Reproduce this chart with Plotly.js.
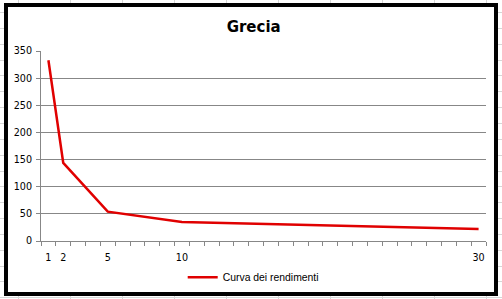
<!DOCTYPE html>
<html>
<head>
<meta charset="utf-8">
<script src="https://cdn.plot.ly/plotly-3.0.1.min.js"></script>
<style>
  html, body { margin: 0; padding: 0; width: 502px; height: 299px; overflow: hidden; }
  body {
    background-color: #ffffff;
    background-image:
      repeating-linear-gradient(to right, transparent 0px, transparent 18px, #d6d6d6 18px, #d6d6d6 19px, transparent 19px, transparent 52px),
      repeating-linear-gradient(to bottom, transparent 0px, transparent 12px, #d6d6d6 12px, #d6d6d6 13px, transparent 13px, transparent 15.85px);
  }
  #frame {
    position: absolute; left: 4px; top: 3px; width: 494px; height: 293px;
    box-sizing: border-box; border: 4px solid #000; background: #fff;
  }
  #chart { width: 486px; height: 285px; }
</style>
</head>
<body>
<div id="frame"><div id="chart"></div></div>
<script>
// Data
const maturities = [1, 2, 5, 10, 30];          // years
const yields = [333, 144, 54, 35, 22];          // Curva dei rendimenti
const xTickLabels = ['1', '2', '5', '10', '30'];
const yTickValues = [0, 50, 100, 150, 200, 250, 300, 350];
const seriesName = 'Curva dei rendimenti';
const chartTitle = 'Grecia';

const gridGray = '#878787';
const tickFont = { family: 'DejaVu Sans', size: 9.6, color: '#000' };

const traces = [{
  x: maturities,
  y: yields,
  type: 'scatter',
  mode: 'lines',
  name: seriesName,
  line: { color: '#e00000', width: 2.5 }
}];

const layout = {
  width: 486,
  height: 285,
  margin: { l: 33, r: 8, t: 44, b: 51, pad: 0 },
  paper_bgcolor: '#ffffff',
  plot_bgcolor: '#ffffff',
  title: {
    text: chartTitle,
    font: { family: 'DejaVu Sans', size: 15, color: '#000', weight: 'bold' },
    x: 0.5055, xref: 'container', xanchor: 'center',
    y: 1 - 19.7 / 285, yref: 'container', yanchor: 'middle'
  },
  xaxis: {
    range: [0.5, 30.5],
    tickvals: maturities,
    ticktext: xTickLabels,
    ticks: 'outside',
    ticklen: 4,
    tickcolor: 'rgba(0,0,0,0)',
    ticklabelstandoff: 3,
    minor: {
      tick0: 0.5,
      dtick: 1,
      ticks: 'outside',
      ticklen: 4,
      tickcolor: gridGray,
      tickwidth: 1,
      showgrid: false
    },
    showgrid: false,
    zeroline: false,
    showline: true,
    linecolor: gridGray,
    linewidth: 1,
    tickfont: tickFont,
    fixedrange: true
  },
  yaxis: {
    range: [0, 350],
    tickvals: yTickValues,
    ticks: 'outside',
    ticklen: 4,
    tickcolor: gridGray,
    ticklabelstandoff: 2,
    showgrid: true,
    gridcolor: gridGray,
    gridwidth: 1,
    zeroline: false,
    showline: true,
    linecolor: gridGray,
    linewidth: 1,
    tickfont: tickFont,
    fixedrange: true
  },
  showlegend: true,
  legend: {
    orientation: 'h',
    xref: 'container', yref: 'container',
    x: 174.7 / 486, xanchor: 'left',
    y: 1 - 270.3 / 285, yanchor: 'middle',
    font: { family: 'Liberation Sans', size: 10.4, color: '#000' },
    bgcolor: 'rgba(0,0,0,0)',
    borderwidth: 0
  }
};

Plotly.newPlot('chart', traces, layout, { displayModeBar: false, staticPlot: true });
</script>
</body>
</html>
